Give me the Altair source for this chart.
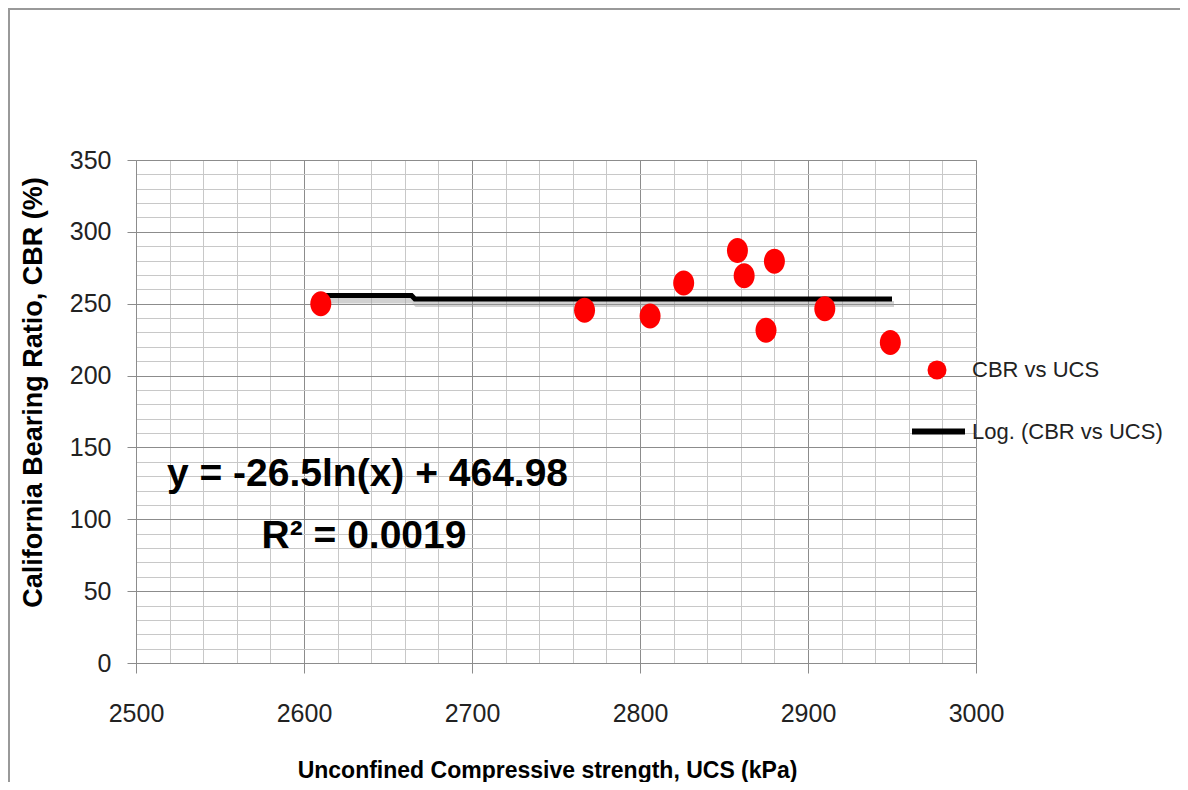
import altair as alt
import pandas as pd

# ---- data ----
ucs = [2610, 2767, 2806, 2826, 2858, 2862, 2875, 2880, 2910, 2949]
cbr = [250, 245.5, 241.5, 264.5, 287, 269.5, 231.5, 279.5, 246.5, 223]

trend_ucs = [2610, 2664, 2666, 2950]
trend_cbr = [255.7, 255.7, 253.3, 253.3]

x_major = [2500, 2600, 2700, 2800, 2900, 3000]
x_minor = list(range(2500, 3001, 20))
y_major = [0, 50, 100, 150, 200, 250, 300, 350]
y_minor = list(range(0, 351, 10))

eq_text = ["y = -26.5ln(x) + 464.98", "R\u00b2 = 0.0019"]
eq_x = [2637.8, 2635.7]
eq_y = [131.5, 88.4]

series_name = "CBR vs UCS"
trend_name = "Log. (CBR vs UCS)"

FONT = "Liberation Sans, Arial, sans-serif"
TEXT = "#222222"
MAJOR = "#8c8c8c"
MINOR = "#c8c8c8"

pts = pd.DataFrame({"ucs": ucs, "cbr": cbr, "series": [series_name] * len(ucs)})
trend = pd.DataFrame({"ucs": trend_ucs, "cbr": trend_cbr, "trend": [trend_name] * len(trend_ucs)})
eq = pd.DataFrame({"ucs": eq_x, "cbr": eq_y, "label": eq_text})
one = pd.DataFrame({"k": [0]})

xscale = alt.Scale(domain=[2500, 3000], nice=False, zero=False)
yscale = alt.Scale(domain=[0, 350], nice=False)

ellipse = "M0,-1A0.84,1,0,1,1,0,1A0.84,1,0,1,1,0,-1Z"

minor = alt.Chart(pts).mark_point(opacity=0).encode(
    x=alt.X("ucs:Q", scale=xscale, axis=alt.Axis(
        orient="top", values=x_minor, grid=True, gridColor=MINOR, gridWidth=1,
        labels=False, ticks=False, domain=False, title="")),
    y=alt.Y("cbr:Q", scale=yscale, axis=alt.Axis(
        orient="right", values=y_minor, grid=True, gridColor=MINOR, gridWidth=1,
        labels=False, ticks=False, domain=False, title="")),
)

shadow = alt.Chart(trend).mark_line(
    color="#999999", strokeWidth=6, opacity=0.45, yOffset=5, xOffset=2
).encode(
    x=alt.X("ucs:Q", scale=xscale, axis=None),
    y=alt.Y("cbr:Q", scale=yscale, axis=None),
)

trendline = alt.Chart(trend).mark_line(strokeWidth=5).encode(
    x=alt.X("ucs:Q", scale=xscale, axis=None),
    y=alt.Y("cbr:Q", scale=yscale, axis=None),
    stroke=alt.Stroke("trend:N", scale=alt.Scale(domain=[trend_name], range=["#000000"]),
                      legend=alt.Legend(orient="none", legendX=773, legendY=242, title=None,
                                        symbolType="stroke", symbolSize=2809,
                                        symbolStrokeWidth=6, labelOffset=4, padding=0,
                                        labelFont=FONT, labelFontSize=22, labelColor=TEXT,
                                        labelLimit=400)),
)

points = alt.Chart(pts).mark_point(filled=True, shape=ellipse, size=625, opacity=1, strokeWidth=0).encode(
    x=alt.X("ucs:Q", scale=xscale, axis=alt.Axis(
        orient="bottom", values=x_major, grid=True, gridColor=MAJOR, gridWidth=1,
        domainColor=MAJOR, tickColor=MAJOR, tickSize=10, labelFlush=False,
        labelFont=FONT, labelFontSize=25, labelColor=TEXT, labelPadding=28,
        format="d",
        title="Unconfined Compressive strength, UCS (kPa)",
        titleFont=FONT, titleFontSize=23, titleFontWeight="bold", titleColor="#000000",
        titleX=411, titleY=107, titleAlign="center", titleBaseline="middle")),
    y=alt.Y("cbr:Q", scale=yscale, axis=alt.Axis(
        orient="left", values=y_major, grid=True, gridColor=MAJOR, gridWidth=1,
        domainColor=MAJOR, tickColor=MAJOR, tickSize=9, labelFlush=False,
        labelFont=FONT, labelFontSize=25, labelColor=TEXT, labelPadding=16,
        title="California Bearing Ratio, CBR (%)",
        titleFont=FONT, titleFontSize=27, titleFontWeight="bold", titleColor="#000000",
        titleX=-103, titleY=232, titleAngle=270, titleAlign="center", titleBaseline="middle")),
    fill=alt.Fill("series:N", scale=alt.Scale(domain=[series_name], range=["#ff0000"]),
                  legend=alt.Legend(orient="none", legendX=790, legendY=199, title=None,
                                    symbolType="circle", symbolSize=361, symbolStrokeWidth=0,
                                    labelOffset=24, padding=0,
                                    labelFont=FONT, labelFontSize=22, labelColor=TEXT,
                                    labelLimit=400)),
)

eqlayer = alt.Chart(eq).mark_text(
    font=FONT, fontWeight="bold", fontSize=39, color="#000000", align="center", baseline="middle"
).encode(
    x=alt.X("ucs:Q", scale=xscale, axis=None),
    y=alt.Y("cbr:Q", scale=yscale, axis=None),
    text="label:N",
)

frame_top = alt.Chart(one).mark_rule(color="#999999", strokeWidth=2).encode(
    x=alt.value(-128), x2=alt.value(1044), y=alt.value(-151))
frame_left = alt.Chart(one).mark_rule(color="#999999", strokeWidth=2).encode(
    x=alt.value(-127), y=alt.value(-152), y2=alt.value(622))

chart = alt.layer(minor, shadow, trendline, points, eqlayer, frame_top, frame_left).resolve_axis(
    x="independent", y="independent"
).properties(
    width=840, height=503,
    autosize=alt.AutoSizeParams(type="none"),
    padding={"left": 128, "top": 152, "right": 204, "bottom": 119},
).configure_view(stroke="transparent").configure(background="white")

chart.save("out.html", embed_options={"renderer": "svg", "actions": False})
